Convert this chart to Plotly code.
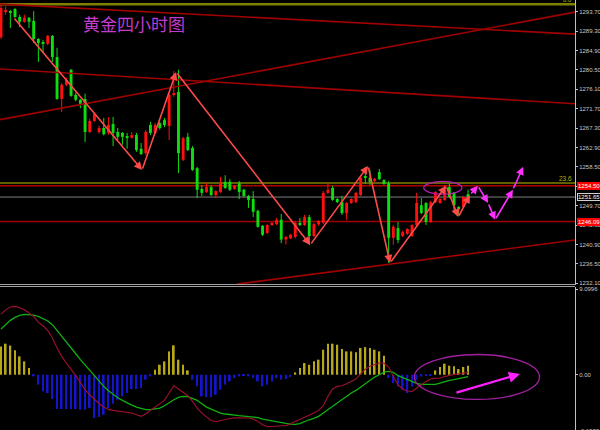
import plotly.graph_objects as go

# ---------------- data ----------------
opens = [1287.9, 1293.6, 1293.8, 1294.3, 1292.5, 1291.4, 1292.3, 1291.6, 1287.5, 1286.8,
         1286.4, 1288.2, 1283.4, 1273.9, 1277.1, 1280.5, 1274.8, 1273.7, 1273.9, 1266.4,
         1268.9, 1266.4, 1267.3, 1266.2, 1268.2, 1266.4, 1266.2, 1265.5, 1265.1, 1265.7,
         1262.6, 1261.6, 1268.0, 1266.2, 1268.4, 1269.1, 1267.8, 1274.8, 1275.5, 1260.1,
         1265.3, 1262.8, 1258.2, 1253.5, 1252.8, 1253.9, 1252.1, 1252.8, 1255.1, 1255.1,
         1253.5, 1254.8, 1253.3, 1251.9, 1251.2, 1248.5, 1245.1, 1243.5, 1245.3, 1245.5,
         1246.5, 1242.0, 1242.3, 1242.6, 1245.8, 1245.3, 1247.1, 1242.8, 1245.5, 1245.8,
         1252.6, 1253.7, 1251.2, 1250.5, 1248.0, 1250.3, 1250.5, 1252.1, 1256.2, 1256.0,
         1255.3, 1257.3, 1255.5, 1254.8, 1242.4, 1244.6, 1242.8, 1243.3, 1242.8, 1245.3,
         1249.8, 1250.3, 1246.0, 1250.5, 1250.3, 1251.0, 1253.9, 1252.6, 1249.4, 1249.4,
         1252.3]
highs = [1295.2, 1294.9, 1294.1, 1294.5, 1293.0, 1293.0, 1292.5, 1293.8, 1287.7, 1287.3,
         1288.4, 1288.4, 1285.5, 1277.5, 1278.7, 1280.7, 1275.3, 1273.9, 1275.1, 1269.4,
         1270.7, 1267.8, 1269.6, 1269.8, 1269.8, 1267.3, 1266.4, 1266.2, 1266.4, 1266.2,
         1263.9, 1266.9, 1268.7, 1268.5, 1268.8, 1269.6, 1275.3, 1280.2, 1280.5, 1265.3,
         1266.2, 1263.2, 1258.5, 1254.4, 1254.8, 1254.4, 1253.2, 1256.2, 1256.6, 1255.7,
         1254.4, 1255.3, 1253.5, 1252.1, 1253.0, 1248.8, 1245.3, 1245.5, 1246.0, 1246.9,
         1247.8, 1242.8, 1243.3, 1246.2, 1246.9, 1247.6, 1247.6, 1245.8, 1246.4, 1253.0,
         1254.8, 1254.2, 1251.4, 1251.9, 1250.5, 1251.4, 1252.8, 1256.6, 1258.5, 1257.8,
         1256.0, 1258.0, 1255.7, 1255.3, 1245.3, 1246.0, 1244.0, 1244.6, 1245.5, 1252.6,
         1251.4, 1250.5, 1250.8, 1253.0, 1251.4, 1254.4, 1254.8, 1252.8, 1249.6, 1251.9,
         1253.3]
lows = [1287.5, 1293.0, 1290.0, 1292.3, 1290.2, 1291.2, 1290.0, 1286.6, 1282.3, 1284.3,
        1286.1, 1282.3, 1273.7, 1270.9, 1276.8, 1274.4, 1273.4, 1271.8, 1264.1, 1266.2,
        1268.7, 1266.0, 1265.6, 1265.8, 1263.2, 1264.6, 1263.5, 1262.6, 1264.9, 1261.9,
        1261.2, 1261.2, 1265.7, 1265.9, 1266.9, 1267.5, 1264.6, 1274.4, 1257.1, 1259.8,
        1262.1, 1257.6, 1251.4, 1251.9, 1252.6, 1251.9, 1251.4, 1252.6, 1253.5, 1253.0,
        1253.3, 1251.2, 1251.6, 1249.2, 1247.1, 1244.7, 1242.8, 1243.3, 1245.1, 1245.3,
        1241.2, 1240.9, 1242.1, 1242.3, 1245.1, 1245.1, 1240.8, 1242.6, 1245.1, 1245.5,
        1252.3, 1250.8, 1250.3, 1247.6, 1246.5, 1250.1, 1250.3, 1251.9, 1254.6, 1254.4,
        1255.1, 1255.5, 1254.4, 1236.7, 1240.8, 1241.2, 1242.6, 1243.1, 1242.6, 1245.1,
        1247.8, 1245.3, 1245.8, 1250.3, 1250.1, 1250.8, 1251.4, 1248.0, 1247.4, 1249.2,
        1251.4]
closes = [1294.5, 1294.1, 1293.4, 1292.5, 1291.4, 1292.3, 1291.4, 1287.5, 1286.6, 1286.4,
          1288.2, 1283.4, 1273.9, 1277.1, 1278.2, 1274.6, 1273.7, 1272.8, 1266.4, 1268.9,
          1270.5, 1267.3, 1265.9, 1268.0, 1266.2, 1265.3, 1265.3, 1265.1, 1265.7, 1262.3,
          1261.4, 1266.4, 1266.2, 1268.0, 1267.3, 1268.0, 1274.8, 1275.2, 1261.6, 1265.0,
          1262.3, 1257.8, 1253.3, 1252.6, 1253.9, 1252.1, 1253.0, 1255.1, 1253.7, 1253.3,
          1254.2, 1252.8, 1251.9, 1251.0, 1248.3, 1244.9, 1243.1, 1245.3, 1245.8, 1246.5,
          1242.0, 1242.6, 1243.1, 1245.8, 1245.3, 1247.1, 1242.8, 1245.5, 1246.2, 1252.6,
          1253.3, 1251.0, 1250.5, 1248.0, 1250.3, 1251.2, 1252.6, 1256.0, 1256.0, 1255.1,
          1255.7, 1255.7, 1254.6, 1242.4, 1244.9, 1241.9, 1243.7, 1244.4, 1245.3, 1250.3,
          1248.0, 1246.0, 1250.5, 1252.8, 1251.2, 1253.3, 1251.7, 1249.8, 1248.9, 1251.7,
          1251.65]

macd_hist = [3.0, 3.3, 3.1, 2.6, 1.95, 1.42, 0.71,
             -0.18, -1.06, -1.77, -1.95, -2.59, -3.65, -3.65, -3.65, -3.65, -3.65, -3.72, -3.72, -3.55, -4.6,
             -4.5, -4.26, -3.55, -3.09, -2.66, -2.3, -1.95, -1.52, -1.52, -1.42, -0.53, -0.18,
             0.53, 1.06, 1.42, 2.48, 3.12, 1.6, 1.06, 0.46,
             -0.53, -1.24, -2.3, -2.38, -2.38, -2.13, -1.6, -1.06, -0.71, -0.35, -0.18, -0.11, -0.18,
             -0.35, -0.71, -1.24, -1.06, -0.71, -0.35, -0.53, -0.46, -0.25,
             0.25, 0.71, 1.24, 1.06, 1.42, 1.6, 2.66, 3.3, 3.3, 3.19, 2.73, 2.48, 2.48, 2.38, 2.84,
             2.94, 2.84, 2.66, 2.48, 2.02,
             -0.35, -0.89, -1.24, -1.6, -1.95, -1.24, -0.53, -0.18, -0.1, -0.05,
             0.46, 0.82, 1.17, 0.96, 0.89, 0.6, 0.82, 0.96]
macd_line = [6.45, 6.9, 7.2, 7.27, 7.13, 6.9, 6.56, 6.2, 5.57, 5.21,
             4.72, 3.9, 2.84, 1.95, 1.24, 0.6, -0.1, -0.82, -1.6, -2.13,
             -2.59, -3.09, -3.44, -3.69, -3.79, -3.87, -3.94, -4.0, -4.08, -4.26,
             -4.43, -4.15, -3.79, -3.44, -3.09, -2.73, -1.95, -1.17, -1.52, -1.88,
             -2.23, -2.84, -3.55, -4.08, -4.5, -4.86, -5.0, -4.86, -4.72, -4.65,
             -4.57, -4.57, -4.57, -4.61, -4.72, -4.96, -5.32, -5.5, -5.5, -5.43,
             -5.43, -5.43, -5.21, -4.96, -4.79, -4.5, -4.29, -4.08, -3.79, -3.3,
             -2.3, -1.52, -1.24, -1.17, -0.96, -0.74, -0.46, 0.1, 0.6, 0.89,
             1.06, 1.24, 1.24, 0.82, -0.18, -1.06, -1.52, -1.74, -1.77, -1.45,
             -1.06, -0.71, -0.46, -0.39, -0.35, -0.18, -0.04, 0.04, 0.1, 0.18,
             0.25]
signal_line = [4.86, 5.32, 5.78, 6.1, 6.31, 6.42, 6.42, 6.35, 6.2, 5.99,
               5.71, 5.32, 4.72, 4.08, 3.48, 2.84, 2.23, 1.6, 1.03, 0.46,
               -0.18, -0.71, -1.24, -1.7, -2.09, -2.45, -2.73, -3.01, -3.23, -3.44,
               -3.62, -3.72, -3.72, -3.65, -3.55, -3.3, -2.94, -2.66, -2.41, -2.3,
               -2.34, -2.52, -2.73, -3.09, -3.44, -3.65, -3.9, -4.08, -4.18, -4.26,
               -4.33, -4.36, -4.4, -4.43, -4.47, -4.57, -4.72, -4.82, -4.93, -5.04,
               -5.11, -5.18, -5.25, -5.28, -5.2, -4.96, -4.79, -4.65, -4.43, -4.08,
               -3.72, -3.37, -3.01, -2.66, -2.3, -1.95, -1.67, -1.31, -0.96, -0.53,
               -0.25, 0.0, 0.28, 0.35, 0.25, -0.1, -0.32, -0.53, -0.74, -0.92,
               -1.03, -1.03, -1.06, -1.03, -0.89, -0.71, -0.6, -0.53, -0.43, -0.32,
               -0.21]

price_ticks = [1232.10, 1236.50, 1240.90, 1245.30, 1249.70, 1254.10, 1258.50, 1262.90,
               1267.30, 1271.70, 1276.10, 1280.50, 1284.90, 1289.30, 1293.70]
macd_ticks = [9.0996, 0.0]
macd_tick_text = ["9.0996", "0.00"]
macd_min_label = "-6.1532"

# wave analysis path (bar index, price)
wave_idx = [2.6, 30.2, 37.5, 66.2, 78.6, 83.3, 95.3, 97.9, 100.4]
wave_price = [1292.5, 1257.8, 1280.0, 1240.8, 1258.7, 1236.7, 1254.2, 1247.1, 1252.1]
# forecast path (magenta)
fc_idx = [100.4, 102.1, 104.3, 105.8, 109.6, 111.8]
fc_price = [1252.1, 1254.2, 1250.3, 1246.5, 1253.3, 1258.5]

# trend lines: (start idx, start price, end idx, end price)
trend_lines = [(-0.2, 1295.4, 122.9, 1288.6),
               (-0.2, 1280.7, 122.9, 1272.8),
               (-0.2, 1269.2, 122.9, 1293.6),
               (50.5, 1231.9, 122.9, 1241.9)]
fib_0 = 1295.4
fib_236 = 1254.85
red_level_hi = 1254.2
red_level_hi_text = "1254.50"
red_level_lo = 1246.09
last_price = 1251.65
title_text = "黄金四小时图"

# ---------------- figure ----------------
n = len(opens)
idx = list(range(n))
X_RIGHT = 575 / 600.0
AXFONT = 'Liberation Sans, Arial, sans-serif'
AXSIZE = 6

fig = go.Figure()

up = [c >= o for o, c in zip(opens, closes)]
body_base = [min(o, c) for o, c in zip(opens, closes)]
body_h = [max(abs(c - o), 0.15) for o, c in zip(opens, closes)]
body_col = ['#ff1010' if u else '#10dd10' for u in up]

for want_up, col in [(True, '#ff1010'), (False, '#10dd10')]:
    xs, ys = [], []
    for i in idx:
        if up[i] == want_up:
            xs += [i, i, None]
            ys += [lows[i], highs[i], None]
    fig.add_trace(go.Scatter(x=xs, y=ys, mode='lines', line=dict(color=col, width=1),
                             xaxis='x', yaxis='y', hoverinfo='skip', showlegend=False))

fig.add_trace(go.Bar(x=idx, y=body_h, base=body_base, width=0.62,
                     marker=dict(color=body_col, line=dict(width=0)),
                     xaxis='x', yaxis='y', hoverinfo='skip', showlegend=False))

# trend lines
for (x0, y0, x1, y1) in trend_lines:
    fig.add_trace(go.Scatter(x=[x0, x1], y=[y0, y1], mode='lines',
                             line=dict(color='#a00000', width=1.6),
                             xaxis='x', yaxis='y', hoverinfo='skip', showlegend=False))

# MACD histogram
hist_col = ['#b8a818' if v >= 0 else '#1414c8' for v in macd_hist]
fig.add_trace(go.Bar(x=idx, y=macd_hist, width=0.38, marker=dict(color=hist_col, line=dict(width=0)),
                     xaxis='x', yaxis='y2', hoverinfo='skip', showlegend=False))
fig.add_trace(go.Scatter(x=idx, y=signal_line, mode='lines', line=dict(color='#10b010', width=1.3),
                         xaxis='x', yaxis='y2', hoverinfo='skip', showlegend=False))
fig.add_trace(go.Scatter(x=idx, y=macd_line, mode='lines', line=dict(color='#a01030', width=1.1),
                         xaxis='x', yaxis='y2', hoverinfo='skip', showlegend=False))

shapes = []
def hline(y, color, width):
    shapes.append(dict(type='line', xref='paper', yref='y', x0=0, x1=X_RIGHT, y0=y, y1=y,
                       line=dict(color=color, width=width), layer='below'))

hline(fib_0, '#808000', 2.5)
hline(fib_236, '#808000', 1.5)
hline(red_level_hi, '#b00000', 1.5)
hline(last_price, '#808080', 1)
hline(red_level_lo, '#a00000', 1.5)

# panel separator
for py in (284.5, 286.5):
    yy = (430 - py) / 430.0
    shapes.append(dict(type='line', xref='paper', yref='paper', x0=0, x1=X_RIGHT, y0=yy, y1=yy,
                       line=dict(color='#a0a0a0', width=1)))

# ellipses
shapes.append(dict(type='circle', xref='x', yref='y', x0=90.5, x1=98.7, y0=1252.3, y1=1255.2,
                   line=dict(color='#b020b0', width=1.3)))
shapes.append(dict(type='circle', xref='x', yref='y2', x0=88.5, x1=115.3, y0=-2.63, y1=2.15,
                   line=dict(color='#a020a0', width=1.3)))

annotations = []
def arrow(x0, y0, x1, y1, color, width, yref='y', head=2, size=1.0):
    annotations.append(dict(x=x1, y=y1, ax=x0, ay=y0, xref='x', yref=yref, axref='x', ayref=yref,
                            text='', showarrow=True, arrowhead=head, arrowsize=size,
                            arrowwidth=width, arrowcolor=color, standoff=0, startstandoff=0))

for k in range(len(wave_idx) - 1):
    arrow(wave_idx[k], wave_price[k], wave_idx[k + 1], wave_price[k + 1], '#ff4a4a', 1.6)
for k in range(len(fc_idx) - 1):
    arrow(fc_idx[k], fc_price[k], fc_idx[k + 1], fc_price[k + 1], '#ff30ff', 1.6)

arrow(97.2, -1.95, 111.1, 0.07, '#ff20ff', 2.2, yref='y2', size=1.0)

# title
annotations.append(dict(x=134 / 600.0, y=1 - 23 / 430.0, xref='paper', yref='paper', text=title_text,
                        showarrow=False, font=dict(family='Noto Sans CJK SC', size=17, color='#c43ccc'),
                        xanchor='center', yanchor='middle'))

def axis_label(y, text, bg, border, fcolor='#ffffff'):
    annotations.append(dict(x=576.5 / 600.0, y=y, xref='paper', yref='y', text=text, showarrow=False,
                            xanchor='left', yanchor='middle', bgcolor=bg, bordercolor=border,
                            borderwidth=1, borderpad=0,
                            font=dict(family=AXFONT, size=AXSIZE, color=fcolor)))

axis_label(red_level_hi, red_level_hi_text, '#ff0000', '#ff0000')
axis_label(red_level_lo, '%.2f' % red_level_lo, '#ff0000', '#ff0000')
axis_label(last_price, '%.2f' % last_price, '#000000', '#d0d0d0')

annotations.append(dict(x=574 / 600.0, y=fib_236, xref='paper', yref='y', text='23.6', showarrow=False,
                        xanchor='right', yanchor='bottom', yshift=-1,
                        font=dict(family=AXFONT, size=AXSIZE + 0.5, color='#b8b800')))
annotations.append(dict(x=574 / 600.0, y=1.0, xref='paper', yref='paper', text='0.0', showarrow=False,
                        xanchor='right', yanchor='middle',
                        font=dict(family=AXFONT, size=AXSIZE, color='#b8b800')))
annotations.append(dict(x=577 / 600.0, y=-0.003, xref='paper', yref='paper', text=macd_min_label,
                        showarrow=False, xanchor='left', yanchor='middle',
                        font=dict(family=AXFONT, size=AXSIZE, color='#c8c8c8')))

tickfont = dict(family=AXFONT, size=AXSIZE, color='#c8c8c8')
fig.update_layout(
    width=600, height=430,
    margin=dict(l=0, r=0, t=0, b=0),
    paper_bgcolor='#000000', plot_bgcolor='#000000',
    showlegend=False, hovermode=False, barmode='overlay',
    xaxis=dict(domain=[0, X_RIGHT], range=[-0.214, 122.9], visible=False, anchor='y2',
               fixedrange=True),
    yaxis=dict(domain=[(430 - 285) / 430.0, 1.0], range=[1231.7, 1296.34], side='right', anchor='x',
               tickvals=price_ticks, ticktext=['%.2f' % v for v in price_ticks],
               showgrid=False, zeroline=False, showline=True, linecolor='#c0c0c0', linewidth=1,
               ticks='outside', ticklen=2, tickcolor='#c0c0c0', tickfont=tickfont, automargin=False,
               ticklabelstandoff=0, fixedrange=True),
    yaxis2=dict(domain=[0, (430 - 287) / 430.0], range=[-5.88, 9.33], side='right', anchor='x',
                tickvals=macd_ticks, ticktext=macd_tick_text,
                showgrid=False, zeroline=False, showline=True, linecolor='#c0c0c0', linewidth=1,
                ticks='outside', ticklen=2, tickcolor='#c0c0c0', tickfont=tickfont, automargin=False,
                ticklabelstandoff=0, fixedrange=True),
    shapes=shapes, annotations=annotations,
)

fig.write_html("out.html", config={'displayModeBar': False},
               post_script="document.body.style.margin='0';document.body.style.background='#000';")
